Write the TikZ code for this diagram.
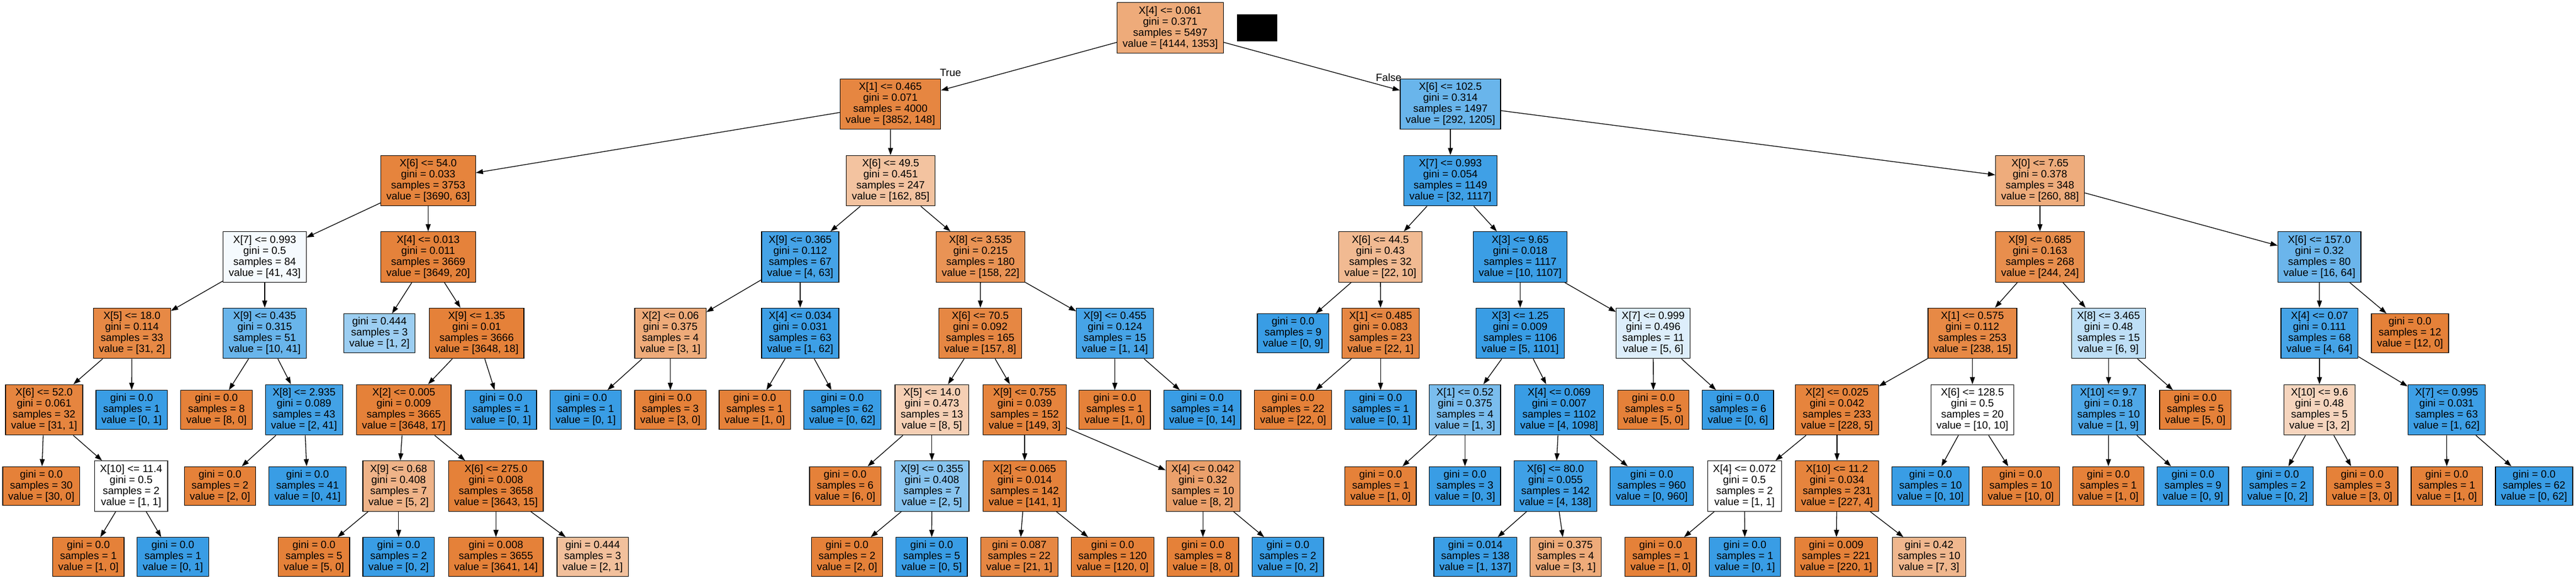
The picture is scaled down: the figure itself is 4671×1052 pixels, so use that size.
\documentclass[tikz,border=0pt]{standalone}
\usepackage{fontspec}
\setmainfont{Liberation Sans}
\usepackage{tikz}
\usetikzlibrary{arrows.meta}

\definecolor{leftcol}{HTML}{E58139}
\definecolor{rightcol}{HTML}{399DE5}

\tikzset{
  treebox/.style={draw=black, line width=1.3pt, align=center, inner xsep=10pt,
    inner ysep=0pt, font=\fontsize{19}{20}\selectfont},
  splitnode/.style={treebox, minimum height=91.5pt},
  leafnode/.style={treebox, minimum height=70.5pt},
  org/.style={fill=leftcol!#1!white},
  blu/.style={fill=rightcol!#1!white},
  conn/.style={-{Triangle[length=13pt,width=9pt]}, line width=1.3pt},
  lbl/.style={font=\fontsize{19}{20}\selectfont, inner sep=0pt}
}

\begin{document}
\begin{tikzpicture}[x=1pt, y=-1pt]

  \useasboundingbox (0,0) rectangle (4671,1052);

  % Define nodes

  % root
  \node[splitnode, org=67] (n0) at (2122,50.5) {X[4] <= 0.061\\gini = 0.371\\samples = 5497\\value = [4144, 1353]}; %
  \fill[black] (2243,26) rectangle (2316,75); %

  % left subtree
  \node[splitnode, org=96] (n1) at (1614.5,189) {X[1] <= 0.465\\gini = 0.071\\samples = 4000\\value = [3852, 148]}; %
  \node[splitnode, org=98] (n2) at (776.4,328) {X[6] <= 54.0\\gini = 0.033\\samples = 3753\\value = [3690, 63]}; %
  \node[splitnode, blu=5]  (n3) at (480,466.5) {X[7] <= 0.993\\gini = 0.5\\samples = 84\\value = [41, 43]}; %
  \node[splitnode, org=94] (n4) at (239.3,605) {X[5] <= 18.0\\gini = 0.114\\samples = 33\\value = [31, 2]}; %
  \node[splitnode, org=97] (n5) at (80,744) {X[6] <= 52.0\\gini = 0.061\\samples = 32\\value = [31, 1]}; %
  \node[leafnode, org=100] (n6) at (74.9,882.5) {gini = 0.0\\samples = 30\\value = [30, 0]}; %
  \node[splitnode, fill=white] (n7) at (237.8,882.5) {X[10] <= 11.4\\gini = 0.5\\samples = 2\\value = [1, 1]}; %
  \node[leafnode, org=100] (n8) at (160.3,1011) {gini = 0.0\\samples = 1\\value = [1, 0]}; %
  \node[leafnode, blu=100] (n9) at (313.5,1011) {gini = 0.0\\samples = 1\\value = [0, 1]}; %
  \node[leafnode, blu=100] (n10) at (238.6,744) {gini = 0.0\\samples = 1\\value = [0, 1]}; %
  \node[splitnode, blu=76] (n11) at (480,605) {X[9] <= 0.435\\gini = 0.315\\samples = 51\\value = [10, 41]}; %
  \node[leafnode, org=100] (n12) at (392.5,744) {gini = 0.0\\samples = 8\\value = [8, 0]}; %
  \node[splitnode, blu=95] (n13) at (551.3,744) {X[8] <= 2.935\\gini = 0.089\\samples = 43\\value = [2, 41]}; %
  \node[leafnode, org=100] (n14) at (398.9,882.5) {gini = 0.0\\samples = 2\\value = [2, 0]}; %
  \node[leafnode, blu=100] (n15) at (557.6,882.5) {gini = 0.0\\samples = 41\\value = [0, 41]}; %
  \node[splitnode, org=99] (n16) at (776.4,466.5) {X[4] <= 0.013\\gini = 0.011\\samples = 3669\\value = [3649, 20]}; %
  \node[leafnode, blu=50]  (n17) at (688,605) {gini = 0.444\\samples = 3\\value = [1, 2]}; %
  \node[splitnode, org=100] (n18) at (864.3,605) {X[9] <= 1.35\\gini = 0.01\\samples = 3666\\value = [3648, 18]}; %
  \node[splitnode, org=100] (n19) at (732.2,744) {X[2] <= 0.005\\gini = 0.009\\samples = 3665\\value = [3648, 17]}; %
  \node[splitnode, org=60] (n20) at (722.8,882.5) {X[9] <= 0.68\\gini = 0.408\\samples = 7\\value = [5, 2]}; %
  \node[leafnode, org=100] (n21) at (569.3,1011) {gini = 0.0\\samples = 5\\value = [5, 0]}; %
  \node[leafnode, blu=100] (n22) at (722.8,1011) {gini = 0.0\\samples = 2\\value = [0, 2]}; %
  \node[splitnode, org=100] (n23) at (899.3,882.5) {X[6] <= 275.0\\gini = 0.008\\samples = 3658\\value = [3643, 15]}; %
  \node[leafnode, org=100] (n24) at (899.3,1011) {gini = 0.008\\samples = 3655\\value = [3641, 14]}; %
  \node[leafnode, org=50]  (n25) at (1074.7,1011) {gini = 0.444\\samples = 3\\value = [2, 1]}; %
  \node[leafnode, blu=100] (n26) at (908.3,744) {gini = 0.0\\samples = 1\\value = [0, 1]}; %
  \node[splitnode, org=48] (n27) at (1615,328) {X[6] <= 49.5\\gini = 0.451\\samples = 247\\value = [162, 85]}; %
  \node[splitnode, blu=94] (n28) at (1451,466.5) {X[9] <= 0.365\\gini = 0.112\\samples = 67\\value = [4, 63]}; %
  \node[splitnode, org=67] (n29) at (1215.5,605) {X[2] <= 0.06\\gini = 0.375\\samples = 4\\value = [3, 1]}; %
  \node[leafnode, blu=100] (n30) at (1061.9,744) {gini = 0.0\\samples = 1\\value = [0, 1]}; %
  \node[leafnode, org=100] (n31) at (1215.5,744) {gini = 0.0\\samples = 3\\value = [3, 0]}; %
  \node[splitnode, blu=98] (n32) at (1451,605) {X[4] <= 0.034\\gini = 0.031\\samples = 63\\value = [1, 62]}; %
  \node[leafnode, org=100] (n33) at (1368.5,744) {gini = 0.0\\samples = 1\\value = [1, 0]}; %
  \node[leafnode, blu=100] (n34) at (1527.3,744) {gini = 0.0\\samples = 62\\value = [0, 62]}; %
  \node[splitnode, org=86] (n35) at (1778,466.5) {X[8] <= 3.535\\gini = 0.215\\samples = 180\\value = [158, 22]}; %
  \node[splitnode, org=95] (n36) at (1777.5,605) {X[6] <= 70.5\\gini = 0.092\\samples = 165\\value = [157, 8]}; %
  \node[splitnode, org=38] (n37) at (1689.8,744) {X[5] <= 14.0\\gini = 0.473\\samples = 13\\value = [8, 5]}; %
  \node[leafnode, org=100] (n38) at (1532.5,882.5) {gini = 0.0\\samples = 6\\value = [6, 0]}; %
  \node[splitnode, blu=60] (n39) at (1689.8,882.5) {X[9] <= 0.355\\gini = 0.408\\samples = 7\\value = [2, 5]}; %
  \node[leafnode, org=100] (n40) at (1535.9,1011) {gini = 0.0\\samples = 2\\value = [2, 0]}; %
  \node[leafnode, blu=100] (n41) at (1689.4,1011) {gini = 0.0\\samples = 5\\value = [0, 5]}; %
  \node[splitnode, org=98] (n42) at (1858,744) {X[9] <= 0.755\\gini = 0.039\\samples = 152\\value = [149, 3]}; %
  \node[splitnode, org=99] (n43) at (1858,882.5) {X[2] <= 0.065\\gini = 0.014\\samples = 142\\value = [141, 1]}; %
  \node[leafnode, org=95]  (n44) at (1848.2,1011) {gini = 0.087\\samples = 22\\value = [21, 1]}; %
  \node[leafnode, org=100] (n45) at (2017.5,1011) {gini = 0.0\\samples = 120\\value = [120, 0]}; %
  \node[splitnode, org=75] (n46) at (2181.2,882.5) {X[4] <= 0.042\\gini = 0.32\\samples = 10\\value = [8, 2]}; %
  \node[leafnode, org=100] (n47) at (2181.2,1011) {gini = 0.0\\samples = 8\\value = [8, 0]}; %
  \node[leafnode, blu=100] (n48) at (2335.3,1011) {gini = 0.0\\samples = 2\\value = [0, 2]}; %
  \node[splitnode, blu=93] (n49) at (2021.7,605) {X[9] <= 0.455\\gini = 0.124\\samples = 15\\value = [1, 14]}; %
  \node[leafnode, org=100] (n50) at (2021.3,744) {gini = 0.0\\samples = 1\\value = [1, 0]}; %
  \node[leafnode, blu=100] (n51) at (2180.1,744) {gini = 0.0\\samples = 14\\value = [0, 14]}; %

  % right subtree
  \node[splitnode, blu=76] (n52) at (2630,189) {X[6] <= 102.5\\gini = 0.314\\samples = 1497\\value = [292, 1205]}; %
  \node[splitnode, blu=97] (n53) at (2630,328) {X[7] <= 0.993\\gini = 0.054\\samples = 1149\\value = [32, 1117]}; %
  \node[splitnode, org=55] (n54) at (2503,466.5) {X[6] <= 44.5\\gini = 0.43\\samples = 32\\value = [22, 10]}; %
  \node[leafnode, blu=100] (n55) at (2344.7,605) {gini = 0.0\\samples = 9\\value = [0, 9]}; %
  \node[splitnode, org=95] (n56) at (2503.3,605) {X[1] <= 0.485\\gini = 0.083\\samples = 23\\value = [22, 1]}; %
  \node[leafnode, org=100] (n57) at (2344.7,744) {gini = 0.0\\samples = 22\\value = [22, 0]}; %
  \node[leafnode, blu=100] (n58) at (2503.3,744) {gini = 0.0\\samples = 1\\value = [0, 1]}; %
  \node[splitnode, blu=99] (n59) at (2756.5,466.5) {X[3] <= 9.65\\gini = 0.018\\samples = 1117\\value = [10, 1107]}; %
  \node[splitnode, blu=100] (n60) at (2756.5,605) {X[3] <= 1.25\\gini = 0.009\\samples = 1106\\value = [5, 1101]}; %
  \node[splitnode, blu=67] (n61) at (2656.4,744) {X[1] <= 0.52\\gini = 0.375\\samples = 4\\value = [1, 3]}; %
  \node[leafnode, org=100] (n62) at (2503.3,882.5) {gini = 0.0\\samples = 1\\value = [1, 0]}; %
  \node[leafnode, blu=100] (n63) at (2656.4,882.5) {gini = 0.0\\samples = 3\\value = [0, 3]}; %
  \node[splitnode, blu=100] (n64) at (2827.2,744) {X[4] <= 0.069\\gini = 0.007\\samples = 1102\\value = [4, 1098]}; %
  \node[splitnode, blu=97] (n65) at (2820.5,882.5) {X[6] <= 80.0\\gini = 0.055\\samples = 142\\value = [4, 138]}; %
  \node[leafnode, blu=99]  (n66) at (2675.2,1011) {gini = 0.014\\samples = 138\\value = [1, 137]}; %
  \node[leafnode, org=67]  (n67) at (2838.9,1011) {gini = 0.375\\samples = 4\\value = [3, 1]}; %
  \node[leafnode, blu=100] (n68) at (2995,882.5) {gini = 0.0\\samples = 960\\value = [0, 960]}; %
  \node[splitnode, blu=17] (n69) at (2997.7,605) {X[7] <= 0.999\\gini = 0.496\\samples = 11\\value = [5, 6]}; %
  \node[leafnode, org=100] (n70) at (2998,744) {gini = 0.0\\samples = 5\\value = [5, 0]}; %
  \node[leafnode, blu=100] (n71) at (3151.2,744) {gini = 0.0\\samples = 6\\value = [0, 6]}; %
  \node[splitnode, org=66] (n72) at (3699,328) {X[0] <= 7.65\\gini = 0.378\\samples = 348\\value = [260, 88]}; %
  \node[splitnode, org=90] (n73) at (3699,466.5) {X[9] <= 0.685\\gini = 0.163\\samples = 268\\value = [244, 24]}; %
  \node[splitnode, org=94] (n74) at (3576.5,605) {X[1] <= 0.575\\gini = 0.112\\samples = 253\\value = [238, 15]}; %
  \node[splitnode, org=98] (n75) at (3331,744) {X[2] <= 0.025\\gini = 0.042\\samples = 233\\value = [228, 5]}; %
  \node[splitnode, fill=white] (n76) at (3163.2,882.5) {X[4] <= 0.072\\gini = 0.5\\samples = 2\\value = [1, 1]}; %
  \node[leafnode, org=100] (n77) at (3011.2,1011) {gini = 0.0\\samples = 1\\value = [1, 0]}; %
  \node[leafnode, blu=100] (n78) at (3164,1011) {gini = 0.0\\samples = 1\\value = [0, 1]}; %
  \node[splitnode, org=98] (n79) at (3331,882.5) {X[10] <= 11.2\\gini = 0.034\\samples = 231\\value = [227, 4]}; %
  \node[leafnode, org=100] (n80) at (3329.5,1011) {gini = 0.009\\samples = 221\\value = [220, 1]}; %
  \node[leafnode, org=57]  (n81) at (3498,1011) {gini = 0.42\\samples = 10\\value = [7, 3]}; %
  \node[splitnode, fill=white] (n82) at (3576.5,744) {X[6] <= 128.5\\gini = 0.5\\samples = 20\\value = [10, 10]}; %
  \node[leafnode, blu=100] (n83) at (3500.6,882.5) {gini = 0.0\\samples = 10\\value = [0, 10]}; %
  \node[leafnode, org=100] (n84) at (3664.2,882.5) {gini = 0.0\\samples = 10\\value = [10, 0]}; %
  \node[splitnode, blu=33] (n85) at (3823.3,605) {X[8] <= 3.465\\gini = 0.48\\samples = 15\\value = [6, 9]}; %
  \node[splitnode, blu=89] (n86) at (3823.3,744) {X[10] <= 9.7\\gini = 0.18\\samples = 10\\value = [1, 9]}; %
  \node[leafnode, org=100] (n87) at (3823,882.5) {gini = 0.0\\samples = 1\\value = [1, 0]}; %
  \node[leafnode, blu=100] (n88) at (3976.4,882.5) {gini = 0.0\\samples = 9\\value = [0, 9]}; %
  \node[leafnode, org=100] (n89) at (3980.6,744) {gini = 0.0\\samples = 5\\value = [5, 0]}; %
  \node[splitnode, blu=75] (n90) at (4205.7,466.5) {X[6] <= 157.0\\gini = 0.32\\samples = 80\\value = [16, 64]}; %
  \node[splitnode, blu=94] (n91) at (4205.8,605) {X[4] <= 0.07\\gini = 0.111\\samples = 68\\value = [4, 64]}; %
  \node[splitnode, org=33] (n92) at (4205.8,744) {X[10] <= 9.6\\gini = 0.48\\samples = 5\\value = [3, 2]}; %
  \node[leafnode, blu=100] (n93) at (4129.8,882.5) {gini = 0.0\\samples = 2\\value = [0, 2]}; %
  \node[leafnode, org=100] (n94) at (4283.3,882.5) {gini = 0.0\\samples = 3\\value = [3, 0]}; %
  \node[splitnode, blu=98] (n95) at (4436.3,744) {X[7] <= 0.995\\gini = 0.031\\samples = 63\\value = [1, 62]}; %
  \node[leafnode, org=100] (n96) at (4436.7,882.5) {gini = 0.0\\samples = 1\\value = [1, 0]}; %
  \node[leafnode, blu=100] (n97) at (4595,882.5) {gini = 0.0\\samples = 62\\value = [0, 62]}; %
  \node[leafnode, org=100] (n98) at (4369.9,605) {gini = 0.0\\samples = 12\\value = [12, 0]}; %

  % branch labels
  \node[lbl] (lblT) at (1723.5,132) {True}; %
  \node[lbl] (lblF) at (2518,141) {False}; %

  % Connect parents to children
  \foreach \a/\b in {n0/n1, n1/n2, n2/n3, n3/n4, n4/n5, n5/n6, n5/n7, n7/n8, n7/n9,
      n4/n10, n3/n11, n11/n12, n11/n13, n13/n14, n13/n15, n2/n16, n16/n17, n16/n18,
      n18/n19, n19/n20, n20/n21, n20/n22, n19/n23, n23/n24, n23/n25, n18/n26,
      n1/n27, n27/n28, n28/n29, n29/n30, n29/n31, n28/n32, n32/n33, n32/n34,
      n27/n35, n35/n36, n36/n37, n37/n38, n37/n39, n39/n40, n39/n41, n36/n42,
      n42/n43, n43/n44, n43/n45, n42/n46, n46/n47, n46/n48, n35/n49, n49/n50, n49/n51}
    \draw[conn] (\a) -- (\b);
  \foreach \a/\b in {n0/n52, n52/n53, n53/n54, n54/n55, n54/n56, n56/n57, n56/n58,
      n53/n59, n59/n60, n60/n61, n61/n62, n61/n63, n60/n64, n64/n65, n65/n66, n65/n67,
      n64/n68, n59/n69, n69/n70, n69/n71, n52/n72, n72/n73, n73/n74, n74/n75,
      n75/n76, n76/n77, n76/n78, n75/n79, n79/n80, n79/n81, n74/n82, n82/n83, n82/n84,
      n73/n85, n85/n86, n86/n87, n86/n88, n85/n89, n72/n90, n90/n91, n91/n92,
      n92/n93, n92/n94, n91/n95, n95/n96, n95/n97, n90/n98}
    \draw[conn] (\a) -- (\b);

\end{tikzpicture}
\end{document}
